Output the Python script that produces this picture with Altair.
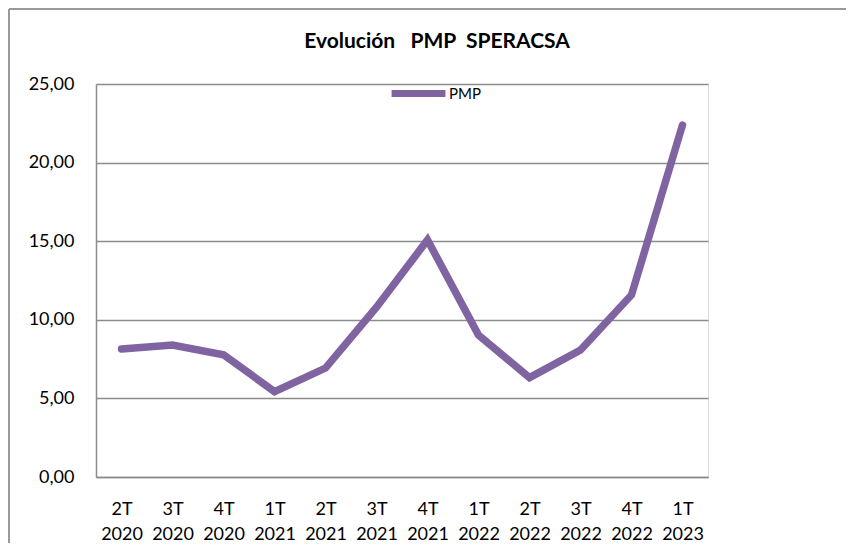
import altair as alt
import pandas as pd

categorias = ["2T 2020", "3T 2020", "4T 2020", "1T 2021", "2T 2021", "3T 2021",
              "4T 2021", "1T 2022", "2T 2022", "3T 2022", "4T 2022", "1T 2023"]
pmp = [8.14, 8.40, 7.78, 5.43, 6.93, 10.80, 15.08, 9.03, 6.32, 8.08, 11.58, 22.39]
serie = ["PMP"] * len(categorias)
titulo = ["Evolución\u00a0\u00a0\u00a0PMP\u00a0\u00a0SPERACSA"]

df = pd.DataFrame({"periodo": categorias, "valor": pmp, "serie": serie})

FONT = "Lato"
GRID = "#8c8c8c"
PURPLE = "#8064A2"

W, H = 612, 393
PL, PT, PR, PB = 88, 76, 138, 66

line = alt.Chart(df).mark_line(strokeWidth=7.5, strokeCap="round", strokeJoin="miter").encode(
    x=alt.X("periodo:O", sort=categorias, scale=alt.Scale(type="point", padding=0.5),
            axis=alt.Axis(title=None, labelAngle=0, labelExpr="split(datum.label, ' ')",
                          labelFont=FONT, labelFontSize=18, labelColor="black",
                          labelLineHeight=25, labelPadding=23, ticks=False,
                          domainColor=GRID, domainWidth=1.5, grid=False)),
    y=alt.Y("valor:Q", scale=alt.Scale(domain=[0, 25], nice=False),
            axis=alt.Axis(title=None, values=[0, 5, 10, 15, 20, 25],
                          labelExpr="replace(format(datum.value, '.2f'), '.', ',')",
                          labelFont=FONT, labelFontSize=18, labelColor="black",
                          labelPadding=22, ticks=False, domainColor=GRID, domainWidth=1.5,
                          grid=True, gridColor=GRID, gridWidth=1.5)),
    color=alt.Color("serie:N", scale=alt.Scale(range=[PURPLE]),
                    legend=alt.Legend(title=None, orient="none", legendX=292, legendY=-21,
                                      symbolType="stroke", symbolStrokeWidth=7,
                                      symbolSize=2900, padding=0,
                                      labelFont=FONT, labelFontSize=15, labelColor="black",
                                      labelOffset=0)),
)

title_mark = alt.Chart(pd.DataFrame({"t": titulo})).mark_text(
    font=FONT, fontSize=21, fontWeight="bold", color="black",
    align="center", baseline="alphabetic"
).encode(text="t:N", x=alt.value(341), y=alt.value(-36))

frame_df = pd.DataFrame({"k": [0]})
frame_top = alt.Chart(frame_df).mark_rule(color="#999999", strokeWidth=2).encode(
    x=alt.value(-PL + 1), x2=alt.value(W + PR), y=alt.value(-PT + 1)
)
frame_left = alt.Chart(frame_df).mark_rule(color="#999999", strokeWidth=2).encode(
    x=alt.value(-PL + 1), y=alt.value(-PT + 1), y2=alt.value(H + PB)
)

chart = alt.layer(line, title_mark, frame_top, frame_left).properties(
    width=W, height=H,
    autosize=alt.AutoSizeParams(type="none"),
    padding={"left": PL, "top": PT, "right": PR, "bottom": PB},
).configure_view(stroke=None).configure(background="white")

chart.save("out.html", embed_options={"renderer": "svg", "actions": False})
